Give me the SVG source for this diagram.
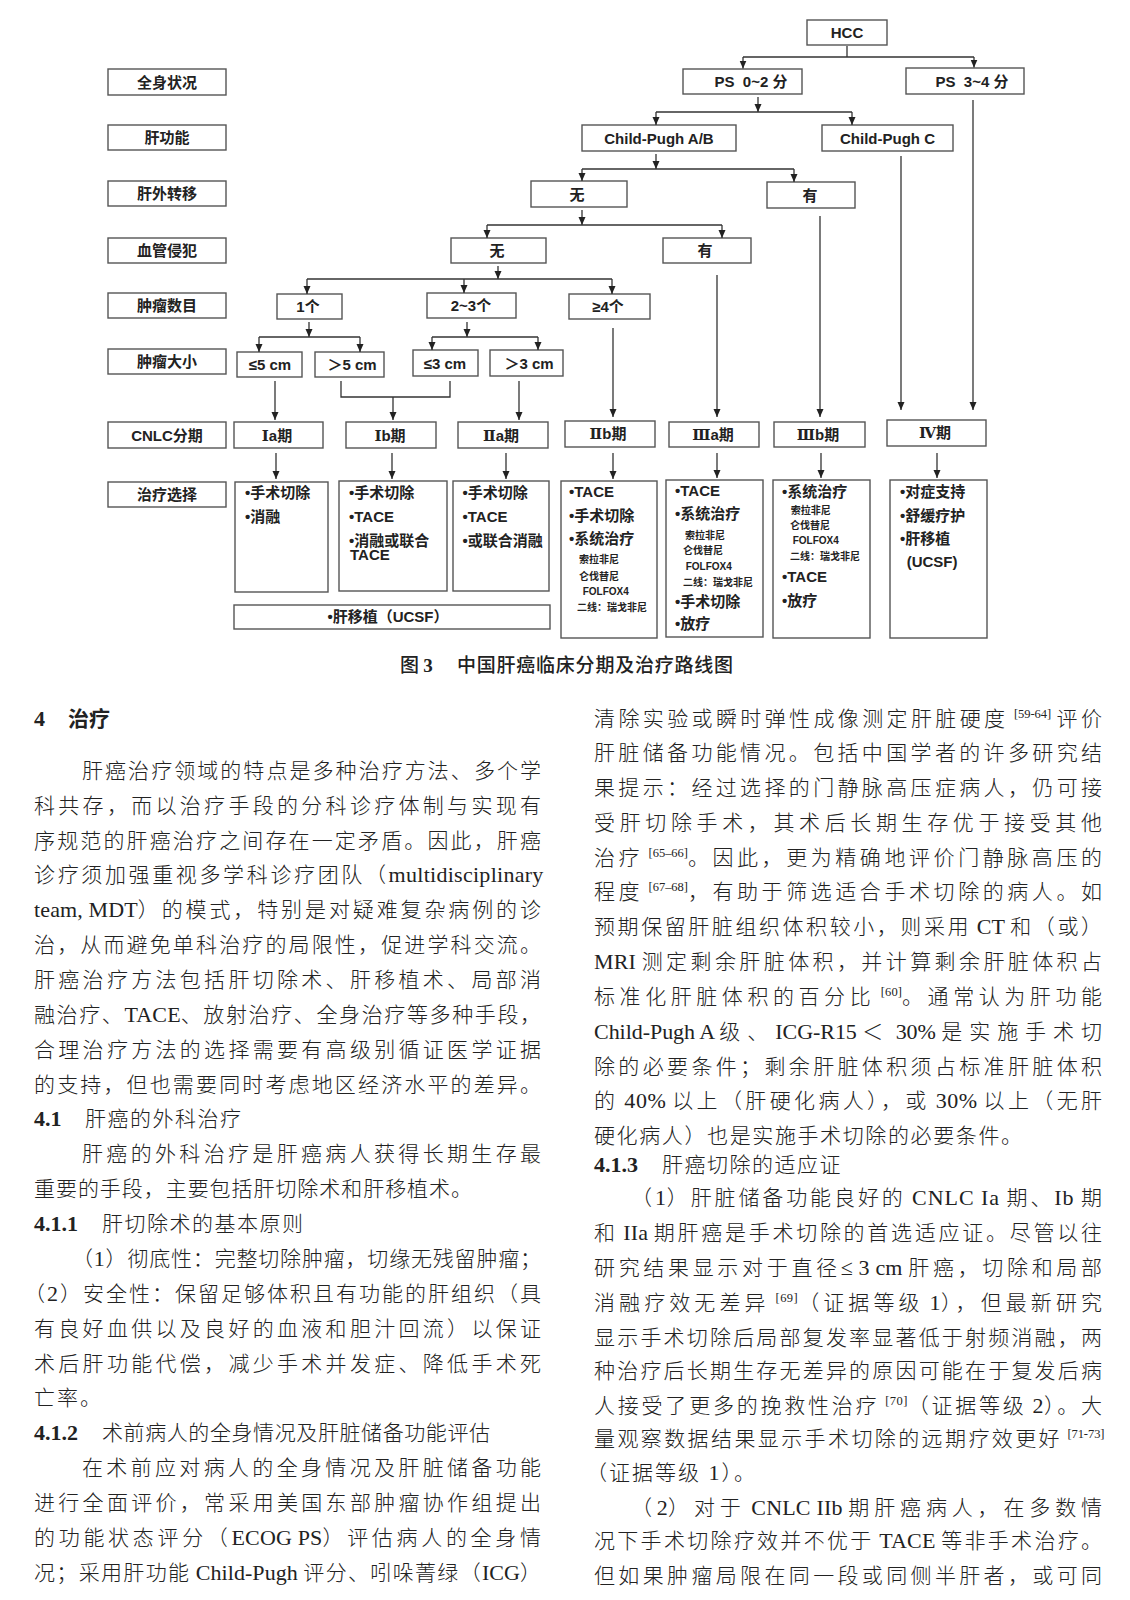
<svg xmlns="http://www.w3.org/2000/svg" width="1130" height="1600" viewBox="0 0 1130 1600">
<style>
.bx{fill:#fff;stroke:#555;stroke-width:1.4}
.cn{fill:none;stroke:#333;stroke-width:1.3}
.ar{fill:none;stroke:#333;stroke-width:1.3;marker-end:url(#ah)}
.lb{font-family:"Liberation Sans","Noto Sans CJK SC",sans-serif;font-weight:bold;font-size:15px;fill:#222;text-anchor:middle}
.tx{font-family:"Liberation Sans","Noto Sans CJK SC",sans-serif;font-weight:bold;font-size:15px;fill:#222}
.sm{font-family:"Liberation Sans","Noto Sans CJK SC",sans-serif;font-weight:bold;font-size:10px;fill:#222}
.rn{font-family:"DejaVu Serif","DejaVu Sans","Noto Sans CJK SC",serif;font-weight:bold}
.bd{font-family:"Liberation Serif","Noto Sans CJK SC",serif;font-size:21px;fill:#222;font-weight:300}
.la{font-size:22px}
.hb{font-weight:bold;font-size:22px}
.sup{font-size:12.5px}
.cap{font-family:"Noto Sans CJK SC",sans-serif;font-size:19px;fill:#222;font-weight:500}
</style>
<defs>
<marker id="ah" viewBox="0 0 8 8" refX="8" refY="4" markerWidth="8" markerHeight="8" markerUnits="userSpaceOnUse" orient="auto">
<path d="M0,0.5 L8,4 L0,7.5 z" fill="#222"/>
</marker>
</defs>

<!-- left category column -->
<g id="cat-qsjk"><rect class="bx" x="108" y="69" width="118" height="26"/><text class="lb" x="167" y="87.5">全身状况</text></g>
<g id="cat-ggn"><rect class="bx" x="108" y="125" width="118" height="25"/><text class="lb" x="167" y="143">肝功能</text></g>
<g id="cat-gwzy"><rect class="bx" x="108" y="181" width="118" height="25"/><text class="lb" x="167" y="199">肝外转移</text></g>
<g id="cat-xgqf"><rect class="bx" x="108" y="238" width="118" height="25"/><text class="lb" x="167" y="256">血管侵犯</text></g>
<g id="cat-zlsm"><rect class="bx" x="108" y="293" width="118" height="25"/><text class="lb" x="167" y="311">肿瘤数目</text></g>
<g id="cat-zldx"><rect class="bx" x="108" y="349" width="118" height="25"/><text class="lb" x="167" y="367">肿瘤大小</text></g>
<g id="cat-cnlc"><rect class="bx" x="108" y="422" width="118" height="26"/><text class="lb" x="167" y="440.5">CNLC分期</text></g>
<g id="cat-zlxz"><rect class="bx" x="108" y="482" width="118" height="25"/><text class="lb" x="167" y="500">治疗选择</text></g>

<!-- decision nodes -->
<g id="n-hcc"><rect class="bx" x="807" y="20" width="80" height="25"/><text class="lb" x="847" y="38">HCC</text></g>
<g id="n-ps02"><rect class="bx" x="683" y="69" width="119" height="25"/><text class="lb" x="751" y="87">PS&#160;&#160;0~2&#160;分</text></g>
<g id="n-ps34"><rect class="bx" x="906" y="68" width="118" height="26"/><text class="lb" x="972" y="86.5">PS&#160;&#160;3~4&#160;分</text></g>
<g id="n-cpab"><rect class="bx" x="582" y="125" width="154" height="26"/><text class="lb" x="659" y="143.5">Child-Pugh A/B</text></g>
<g id="n-cpc"><rect class="bx" x="822" y="125" width="131" height="26"/><text class="lb" x="887.5" y="143.5">Child-Pugh C</text></g>
<g id="n-gw-no"><rect class="bx" x="531" y="181" width="96" height="26"/><text class="lb" x="577" y="199.5">无</text></g>
<g id="n-gw-yes"><rect class="bx" x="767" y="182" width="88" height="26"/><text class="lb" x="810" y="200.5">有</text></g>
<g id="n-xg-no"><rect class="bx" x="451" y="238" width="95" height="25"/><text class="lb" x="497" y="256">无</text></g>
<g id="n-xg-yes"><rect class="bx" x="663" y="238" width="88" height="25"/><text class="lb" x="705" y="256">有</text></g>
<g id="n-1"><rect class="bx" x="277" y="294" width="65" height="25"/><text class="lb" x="308" y="312">1个</text></g>
<g id="n-23"><rect class="bx" x="427" y="293" width="89" height="25"/><text class="lb" x="471" y="311">2~3个</text></g>
<g id="n-4"><rect class="bx" x="569" y="294" width="81" height="25"/><text class="lb" x="608" y="312">≥4个</text></g>
<g id="n-le5"><rect class="bx" x="237" y="352" width="65" height="25"/><text class="lb" x="270" y="370">≤5 cm</text></g>
<g id="n-gt5"><rect class="bx" x="315" y="352" width="69" height="25"/><text class="lb" x="352" y="370">＞5 cm</text></g>
<g id="n-le3"><rect class="bx" x="413" y="350" width="65" height="26"/><text class="lb" x="445" y="368.5">≤3 cm</text></g>
<g id="n-gt3"><rect class="bx" x="490" y="350" width="73" height="26"/><text class="lb" x="529" y="368.5">＞3 cm</text></g>

<!-- stages -->
<g id="s-ia"><rect class="bx" x="234" y="422" width="89" height="26"/><text class="lb" x="277" y="440.5"><tspan class="rn">Ⅰ</tspan>a期</text></g>
<g id="s-ib"><rect class="bx" x="346" y="422" width="90" height="26"/><text class="lb" x="390" y="440.5"><tspan class="rn">Ⅰ</tspan>b期</text></g>
<g id="s-iia"><rect class="bx" x="458" y="422" width="90" height="26"/><text class="lb" x="501" y="440.5"><tspan class="rn">Ⅱ</tspan>a期</text></g>
<g id="s-iib"><rect class="bx" x="565" y="421" width="90" height="26"/><text class="lb" x="608" y="439"><tspan class="rn">Ⅱ</tspan>b期</text></g>
<g id="s-iiia"><rect class="bx" x="669" y="422" width="90" height="25"/><text class="lb" x="713" y="440"><tspan class="rn">Ⅲ</tspan>a期</text></g>
<g id="s-iiib"><rect class="bx" x="774" y="422" width="91" height="25"/><text class="lb" x="818" y="440"><tspan class="rn">Ⅲ</tspan>b期</text></g>
<g id="s-iv"><rect class="bx" x="887" y="420" width="99" height="26"/><text class="lb" x="935" y="438"><tspan class="rn">Ⅳ</tspan>期</text></g>

<!-- treatments -->
<g id="t-ia"><rect class="bx" x="235" y="482" width="93" height="110"/>
<text class="tx" x="245" y="498">•手术切除</text><text class="tx" x="245" y="522">•消融</text></g>
<g id="t-ib"><rect class="bx" x="339" y="481" width="108" height="110"/>
<text class="tx" x="349" y="498">•手术切除</text><text class="tx" x="349" y="521.5">•TACE</text><text class="tx" x="349" y="545.5">•消融或联合</text><text class="tx" x="350" y="559.8">TACE</text></g>
<g id="t-iia"><rect class="bx" x="453" y="481" width="96" height="110"/>
<text class="tx" x="462.5" y="498">•手术切除</text><text class="tx" x="462.5" y="521.5">•TACE</text><text class="tx" x="462.5" y="545.5">•或联合消融</text></g>
<g id="t-iib"><rect class="bx" x="561" y="481" width="96" height="157"/>
<text class="tx" x="569" y="497">•TACE</text><text class="tx" x="569" y="520.5">•手术切除</text><text class="tx" x="569" y="544">•系统治疗</text>
<text class="sm" x="579" y="563">索拉非尼</text><text class="sm" x="579" y="579.7">仑伐替尼</text><text class="sm" x="582.7" y="595.2">FOLFOX4</text><text class="sm" x="577" y="611">二线：瑞戈非尼</text></g>
<g id="t-iiia"><rect class="bx" x="666" y="480" width="97" height="157"/>
<text class="tx" x="675" y="495.5">•TACE</text><text class="tx" x="675" y="519">•系统治疗</text>
<text class="sm" x="685" y="538.7">索拉非尼</text><text class="sm" x="683" y="554.4">仑伐替尼</text><text class="sm" x="685.7" y="570.3">FOLFOX4</text><text class="sm" x="683" y="586.4">二线：瑞戈非尼</text>
<text class="tx" x="675" y="607.2">•手术切除</text><text class="tx" x="675" y="628.8">•放疗</text></g>
<g id="t-iiib"><rect class="bx" x="773" y="480" width="97" height="158"/>
<text class="tx" x="782" y="497.2">•系统治疗</text>
<text class="sm" x="790.7" y="513.7">索拉非尼</text><text class="sm" x="790" y="528.7">仑伐替尼</text><text class="sm" x="792.7" y="544.4">FOLFOX4</text><text class="sm" x="790" y="560.4">二线：瑞戈非尼</text>
<text class="tx" x="782" y="582.2">•TACE</text><text class="tx" x="782" y="605.5">•放疗</text></g>
<g id="t-iv"><rect class="bx" x="890" y="480" width="97" height="158"/>
<text class="tx" x="900" y="497.2">•对症支持</text><text class="tx" x="900" y="520.5">•舒缓疗护</text><text class="tx" x="900" y="543.8">•肝移植</text><text class="tx" x="906.7" y="567.2">(UCSF)</text></g>
<g id="t-ucsf"><rect class="bx" x="234" y="605" width="316" height="24"/><text class="lb" x="388" y="622">•肝移植（UCSF）</text></g>

<!-- connectors -->
<g id="connectors">
<path class="cn" d="M847,46 V57 M743,57 H974"/>
<path class="ar" d="M743,57 V68.5"/><path class="ar" d="M974,57 V67.5"/>
<path class="ar" d="M758,97 V112"/><path class="cn" d="M656,112 H852"/>
<path class="ar" d="M656,112 V125"/><path class="ar" d="M852,112 V125"/>
<path class="ar" d="M656,154 V169"/><path class="cn" d="M582,169 H794"/>
<path class="ar" d="M582,169 V181"/><path class="ar" d="M794,169 V182"/>
<path class="ar" d="M582,210 V225"/><path class="cn" d="M487,225 H722"/>
<path class="ar" d="M487,225 V238"/><path class="ar" d="M722,225 V238"/>
<path class="ar" d="M498,266 V279"/><path class="cn" d="M307,279 H612"/>
<path class="ar" d="M307,279 V294"/><path class="ar" d="M464,279 V293"/><path class="ar" d="M612,279 V294"/>
<path class="ar" d="M309,322 V337"/><path class="cn" d="M259,337 H360"/>
<path class="ar" d="M259,337 V352"/><path class="ar" d="M360,337 V352"/>
<path class="ar" d="M467,322 V337"/><path class="cn" d="M432,337 H538"/>
<path class="ar" d="M432,337 V350"/><path class="ar" d="M538,337 V350"/>
<path class="ar" d="M973,100 V410"/>
<path class="ar" d="M901,156 V410"/>
<path class="ar" d="M820,216 V417"/>
<path class="ar" d="M717,275 V417"/>
<path class="ar" d="M613,328 V417"/>
<path class="ar" d="M275,381 V420"/>
<path class="cn" d="M341,381 V397 H450 V381"/>
<path class="ar" d="M393,397 V420"/>
<path class="ar" d="M519,381 V420"/>
<path class="ar" d="M276,453 V479"/><path class="ar" d="M392,453 V479"/><path class="ar" d="M506,453 V479"/>
<path class="ar" d="M613,453 V479"/><path class="ar" d="M717,453 V478"/><path class="ar" d="M821,453 V478"/><path class="ar" d="M937,453 V478"/>
</g>

<!-- caption -->
<text class="cap" x="400" y="672">图 <tspan font-family="Liberation Serif" font-weight="bold">3</tspan></text>
<text class="cap" x="457" y="672" textLength="276" lengthAdjust="spacing">中国肝癌临床分期及治疗路线图</text>

<!-- left column text -->
<g class="bd">
<text x="34" y="726" class="hb" font-family="Liberation Serif">4</text>
<text x="68" y="726" font-size="21" font-family="Noto Sans CJK SC" font-weight="bold">治疗</text>
<text x="82" y="777.5" textLength="459" lengthAdjust="spacing">肝癌治疗领域的特点是多种治疗方法、多个学</text>
<text x="34" y="812.5" textLength="507" lengthAdjust="spacing">科共存，而以治疗手段的分科诊疗体制与实现有</text>
<text x="34" y="847.5" textLength="507" lengthAdjust="spacing">序规范的肝癌治疗之间存在一定矛盾。因此，肝癌</text>
<text x="34" y="882" textLength="507" lengthAdjust="spacing">诊疗须加强重视多学科诊疗团队（<tspan class="la" letter-spacing="-2.37">multidisciplinary</tspan></text>
<text x="34" y="916.5" textLength="507" lengthAdjust="spacing"><tspan class="la" letter-spacing="-2.78">team, MDT</tspan>）的模式，特别是对疑难复杂病例的诊</text>
<text x="34" y="951.5" textLength="507" lengthAdjust="spacing">治，从而避免单科治疗的局限性，促进学科交流。</text>
<text x="34" y="986.5" textLength="507" lengthAdjust="spacing">肝癌治疗方法包括肝切除术、肝移植术、局部消</text>
<text x="34" y="1021.5" textLength="507" lengthAdjust="spacing">融治疗、<tspan class="la" letter-spacing="-1.48">TACE</tspan>、放射治疗、全身治疗等多种手段，</text>
<text x="34" y="1056.5" textLength="507" lengthAdjust="spacing">合理治疗方法的选择需要有高级别循证医学证据</text>
<text x="34" y="1091.5" textLength="507" lengthAdjust="spacing">的支持，但也需要同时考虑地区经济水平的差异。</text>
<text x="34" y="1125.5" class="hb">4.1</text>
<text x="85" y="1125.5" letter-spacing="1.5">肝癌的外科治疗</text>
<text x="82" y="1160.5" textLength="459" lengthAdjust="spacing">肝癌的外科治疗是肝癌病人获得长期生存最</text>
<text x="34" y="1195.5" textLength="438" lengthAdjust="spacing">重要的手段，主要包括肝切除术和肝移植术。</text>
<text x="34" y="1230.5" class="hb">4.1.1</text>
<text x="102" y="1230.5" letter-spacing="1.5">肝切除术的基本原则</text>
<text x="72" y="1265.5" textLength="469" lengthAdjust="spacing">（<tspan class="la">1</tspan>）彻底性：完整切除肿瘤，切缘无残留肿瘤；</text>
<text x="24" y="1300.5" textLength="517" lengthAdjust="spacing">（<tspan class="la">2</tspan>）安全性：保留足够体积且有功能的肝组织（具</text>
<text x="34" y="1335.5" textLength="507" lengthAdjust="spacing">有良好血供以及良好的血液和胆汁回流）以保证</text>
<text x="34" y="1370.5" textLength="507" lengthAdjust="spacing">术后肝功能代偿，减少手术并发症、降低手术死</text>
<text x="34" y="1404.5" letter-spacing="2">亡率。</text>
<text x="34" y="1439.5" class="hb">4.1.2</text>
<text x="102" y="1439.5" textLength="388" lengthAdjust="spacing">术前病人的全身情况及肝脏储备功能评估</text>
<text x="82" y="1474.5" textLength="459" lengthAdjust="spacing">在术前应对病人的全身情况及肝脏储备功能</text>
<text x="34" y="1509.5" textLength="507" lengthAdjust="spacing">进行全面评价，常采用美国东部肿瘤协作组提出</text>
<text x="34" y="1544.5" textLength="507" lengthAdjust="spacing">的功能状态评分（<tspan class="la" letter-spacing="-3.54">ECOG PS</tspan>）评估病人的全身情</text>
<text x="34" y="1579.5" textLength="507" lengthAdjust="spacing">况；采用肝功能<tspan class="la" letter-spacing="-1.29"> Child-Pugh </tspan>评分、吲哚菁绿（<tspan class="la" letter-spacing="-1.29">ICG</tspan>）</text>
</g>

<!-- right column text -->
<g class="bd">
<text x="594" y="725.5" textLength="508" lengthAdjust="spacing">清除实验或瞬时弹性成像测定肝脏硬度<tspan class="la" letter-spacing="-3.42"> </tspan><tspan class="sup" dy="-8" letter-spacing="-3.42">[59-64]</tspan><tspan class="la" dy="8" letter-spacing="-3.42"> </tspan>评价</text>
<text x="594" y="760" textLength="508" lengthAdjust="spacing">肝脏储备功能情况。包括中国学者的许多研究结</text>
<text x="594" y="794.5" textLength="508" lengthAdjust="spacing">果提示：经过选择的门静脉高压症病人，仍可接</text>
<text x="594" y="829.5" textLength="508" lengthAdjust="spacing">受肝切除手术，其术后长期生存优于接受其他</text>
<text x="594" y="864.5" textLength="508" lengthAdjust="spacing">治疗<tspan class="la" letter-spacing="-3.62"> </tspan><tspan class="sup" dy="-8" letter-spacing="-3.62">[65–66]</tspan><tspan dy="8">。因此，更为精确地评价门静脉高压的</tspan></text>
<text x="594" y="899" textLength="508" lengthAdjust="spacing">程度<tspan class="la" letter-spacing="-3.62"> </tspan><tspan class="sup" dy="-8" letter-spacing="-3.62">[67–68]</tspan><tspan dy="8">，有助于筛选适合手术切除的病人。如</tspan></text>
<text x="594" y="933.5" textLength="508" lengthAdjust="spacing">预期保留肝脏组织体积较小，则采用<tspan class="la" letter-spacing="-2.45"> CT </tspan>和（或）</text>
<text x="594" y="968.5" textLength="508" lengthAdjust="spacing"><tspan class="la" letter-spacing="-3.26">MRI </tspan>测定剩余肝脏体积，并计算剩余肝脏体积占</text>
<text x="594" y="1003.5" textLength="508" lengthAdjust="spacing">标准化肝脏体积的百分比<tspan class="la" letter-spacing="-4.48"> </tspan><tspan class="sup" dy="-8" letter-spacing="-4.48">[60]</tspan><tspan dy="8">。通常认为肝功能</tspan></text>
<text x="594" y="1038.5" textLength="508" lengthAdjust="spacing"><tspan class="la" letter-spacing="-6.99">Child-Pugh A </tspan>级、<tspan class="la" letter-spacing="-6.99">ICG-R15 </tspan>＜<tspan class="la" letter-spacing="-6.99"> 30% </tspan>是实施手术切</text>
<text x="594" y="1073.5" textLength="508" lengthAdjust="spacing">除的必要条件；剩余肝脏体积须占标准肝脏体积</text>
<text x="594" y="1108" textLength="508" lengthAdjust="spacing">的<tspan class="la" letter-spacing="-2.85"> 40% </tspan>以上（肝硬化病人），或<tspan class="la" letter-spacing="-2.85"> 30% </tspan>以上（无肝</text>
<text x="594" y="1142.5" textLength="428" lengthAdjust="spacing">硬化病人）也是实施手术切除的必要条件。</text>
<text x="594" y="1171.5" class="hb">4.1.3</text>
<text x="662" y="1171.5" letter-spacing="1.5">肝癌切除的适应证</text>
<text x="631" y="1204.5" textLength="471" lengthAdjust="spacing">（<tspan class="la" letter-spacing="-1.93">1</tspan>）肝脏储备功能良好的<tspan class="la" letter-spacing="-1.93"> CNLC Ia </tspan>期、<tspan class="la" letter-spacing="-1.93">Ib </tspan>期</text>
<text x="594" y="1239.5" textLength="508" lengthAdjust="spacing">和<tspan class="la" letter-spacing="-2.63"> IIa </tspan>期肝癌是手术切除的首选适应证。尽管以往</text>
<text x="594" y="1274.5" textLength="508" lengthAdjust="spacing">研究结果显示对于直径<tspan class="la" letter-spacing="-3.53">≤ 3 cm </tspan>肝癌，切除和局部</text>
<text x="594" y="1309.5" textLength="508" lengthAdjust="spacing">消融疗效无差异<tspan class="la" letter-spacing="-3.62"> </tspan><tspan class="sup" dy="-8" letter-spacing="-3.62">[69]</tspan><tspan dy="8">（证据等级</tspan><tspan class="la" letter-spacing="-3.62"> 1</tspan>），但最新研究</text>
<text x="594" y="1344.5" textLength="508" lengthAdjust="spacing">显示手术切除后局部复发率显著低于射频消融，两</text>
<text x="594" y="1377.5" textLength="508" lengthAdjust="spacing">种治疗后长期生存无差异的原因可能在于复发后病</text>
<text x="594" y="1412.5" textLength="508" lengthAdjust="spacing">人接受了更多的挽救性治疗<tspan class="la" letter-spacing="-2.39"> </tspan><tspan class="sup" dy="-8" letter-spacing="-2.39">[70]</tspan><tspan dy="8">（证据等级</tspan><tspan class="la" letter-spacing="-2.39"> 2</tspan>）。大</text>
<text x="594" y="1445.5" textLength="508" lengthAdjust="spacing">量观察数据结果显示手术切除的远期疗效更好<tspan class="la" letter-spacing="-2.48"> </tspan><tspan class="sup" dy="-8" letter-spacing="-2.48">[71-73]</tspan></text>
<text x="586" y="1479.5" letter-spacing="2">（证据等级<tspan class="la"> 1</tspan>）。</text>
<text x="631" y="1514.5" textLength="471" lengthAdjust="spacing">（<tspan class="la" letter-spacing="-4.66">2</tspan>）对于<tspan class="la" letter-spacing="-4.66"> CNLC IIb </tspan>期肝癌病人，在多数情</text>
<text x="594" y="1547.5" textLength="508" lengthAdjust="spacing">况下手术切除疗效并不优于<tspan class="la" letter-spacing="-2.14"> TACE </tspan>等非手术治疗。</text>
<text x="594" y="1582.5" textLength="508" lengthAdjust="spacing">但如果肿瘤局限在同一段或同侧半肝者，或可同</text>
</g>
</svg>
